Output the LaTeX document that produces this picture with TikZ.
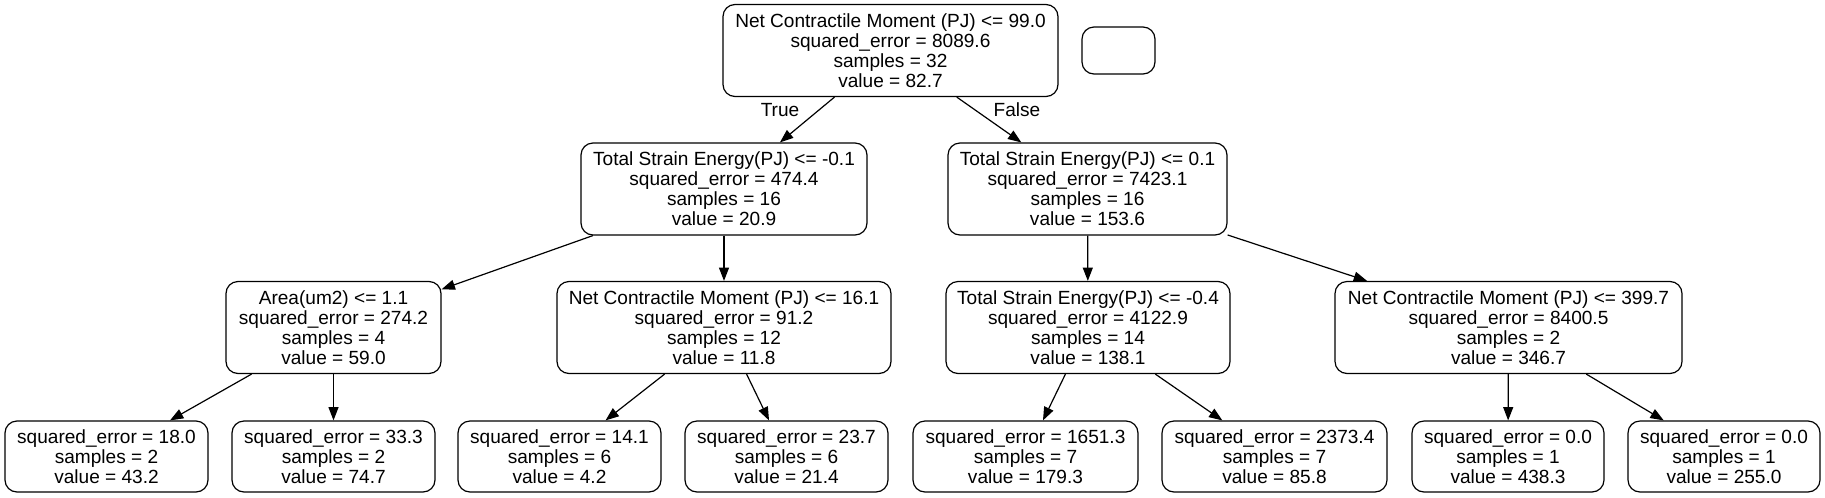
\documentclass[tikz,border=0pt]{standalone}
\usepackage{fontspec}
\setmainfont{Liberation Sans}
\usetikzlibrary{arrows.meta}

\begin{document}
\begin{tikzpicture}[x=0.75pt,y=-0.75pt,>={Triangle[length=10pt,width=7.5pt]},
    box/.style={draw,rounded corners=9pt,line width=0.9pt,align=center,inner sep=0pt,
      font=\fontsize{14.3}{15}\selectfont},
    split/.style={box,minimum height=92*0.75pt,minimum width=#1*0.75pt},
    leaf/.style={box,minimum height=71*0.75pt,minimum width=#1*0.75pt},
    link/.style={->,line width=0.9pt},
    lbl/.style={font=\fontsize{14.3}{15}\selectfont}]
      \useasboundingbox (0,0) rectangle (1825,497);
      % root and the empty box beside it
      \node[split=335] (root) at (890.5,50.5) {Net Contractile Moment (PJ) <= 99.0\\squared\_error = 8089.6\\samples = 32\\value = 82.7};
      \node[box,minimum width=73*0.75pt,minimum height=47*0.75pt] (blank) at (1118.5,50.5) {};
      % first split
      \node[split=286] (t) at (724,189) {Total Strain Energy(PJ) <= -0.1\\squared\_error = 474.4\\samples = 16\\value = 20.9};
      \node[split=279] (f) at (1087.5,189) {Total Strain Energy(PJ) <= 0.1\\squared\_error = 7423.1\\samples = 16\\value = 153.6};
      % second split
      \node[split=215] (tt) at (333.5,327.5) {Area(um2) <= 1.1\\squared\_error = 274.2\\samples = 4\\value = 59.0};
      \node[split=334] (tf) at (724,327.5) {Net Contractile Moment (PJ) <= 16.1\\squared\_error = 91.2\\samples = 12\\value = 11.8};
      \node[split=284] (ft) at (1088,327.5) {Total Strain Energy(PJ) <= -0.4\\squared\_error = 4122.9\\samples = 14\\value = 138.1};
      \node[split=347] (ff) at (1508.5,327.5) {Net Contractile Moment (PJ) <= 399.7\\squared\_error = 8400.5\\samples = 2\\value = 346.7};
      % leaves
      \node[leaf=203] (ttt) at (106.5,456.5) {squared\_error = 18.0\\samples = 2\\value = 43.2};
      \node[leaf=203] (ttf) at (333.5,456.5) {squared\_error = 33.3\\samples = 2\\value = 74.7};
      \node[leaf=203] (tft) at (559.5,456.5) {squared\_error = 14.1\\samples = 6\\value = 4.2};
      \node[leaf=203] (tff) at (786.5,456.5) {squared\_error = 23.7\\samples = 6\\value = 21.4};
      \node[leaf=225] (ftt) at (1025.5,456.5) {squared\_error = 1651.3\\samples = 7\\value = 179.3};
      \node[leaf=225] (ftf) at (1274.5,456.5) {squared\_error = 2373.4\\samples = 7\\value = 85.8};
      \node[leaf=192] (fft) at (1508,456.5) {squared\_error = 0.0\\samples = 1\\value = 438.3};
      \node[leaf=192] (fff) at (1724,456.5) {squared\_error = 0.0\\samples = 1\\value = 255.0};
      % connectors
      \foreach \a/\b in {root/t,root/f,t/tt,t/tf,f/ft,f/ff,tt/ttt,tt/ttf,tf/tft,tf/tff,ft/ftt,ft/ftf,ff/fft,ff/fff}
        \draw[link] (\a) -- (\b);
      \node[lbl] (trueLbl) at (780,110) {True};
      \node[lbl] (falseLbl) at (1017,110) {False};
    \end{tikzpicture}
\end{document}
